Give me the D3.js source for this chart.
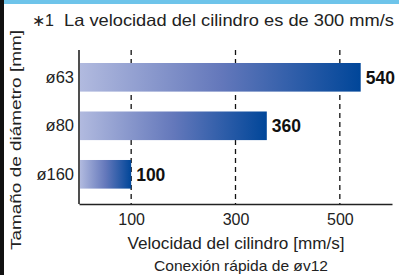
<!DOCTYPE html>
<html>
<head>
<meta charset="utf-8">
<script src="https://cdn.jsdelivr.net/npm/d3@7"></script>
<style>
  body { margin: 0; background: #fff; }
  svg { display: block; font-family: "Liberation Sans", Arial, sans-serif; }
</style>
</head>
<body>
<svg class="chart" width="399" height="275"></svg>
<script>
// data
let sizes = ['ø63', 'ø80', 'ø160'];
let speeds = [540, 360, 100];
let tickValues = [100, 300, 500];

let margin = { top: 50, right: 7, bottom: 71, left: 79 };
let width = 399 - margin.left - margin.right;
let height = 275 - margin.top - margin.bottom;

let svg = d3.select('.chart');

// frame strips
svg.append('rect').attr('x', 0).attr('y', 0).attr('width', 399).attr('height', 4).attr('fill', '#6ec4ea');
svg.append('rect').attr('x', 0).attr('y', 0).attr('width', 4).attr('height', 275).attr('fill', '#111');

let grad = svg.append('defs').append('linearGradient')
    .attr('id', 'barGrad')
    .attr('x1', '0%').attr('x2', '100%').attr('y1', '0%').attr('y2', '0%');
grad.append('stop').attr('offset', '0%').attr('stop-color', '#b1badf');
grad.append('stop').attr('offset', '50%').attr('stop-color', '#6478bb');
grad.append('stop').attr('offset', '100%').attr('stop-color', '#004699');

let chart = svg.append('g')
    .attr('transform', 'translate(' + margin.left + ',' + margin.top + ')');

let x = d3.scaleLinear().domain([0, 600]).range([0, width]);
let y = d3.scaleBand().domain(sizes).range([0, 151.6]).paddingInner(0.41).paddingOuter(0.268);

// dashed grid
chart.selectAll('.grid')
    .data(tickValues)
    .enter()
    .append('line')
    .attr('x1', d => x(d)).attr('x2', d => x(d))
    .attr('y1', 0).attr('y2', height)
    .attr('stroke', '#111')
    .attr('stroke-width', 1.3)
    .attr('stroke-dasharray', '5,4');

let data = sizes.map((s, i) => ({ size: s, value: speeds[i] }));

chart.selectAll('.bar')
    .data(data)
    .enter()
    .append('rect')
    .attr('x', 1)
    .attr('y', d => y(d.size))
    .attr('width', d => x(d.value) - 1)
    .attr('height', y.bandwidth())
    .attr('fill', 'url(#barGrad)');

chart.selectAll('.val')
    .data(data)
    .enter()
    .append('text')
    .attr('x', d => x(d.value) + 5)
    .attr('y', d => y(d.size) + y.bandwidth() / 2 + 6.5)
    .attr('font-size', 17.5)
    .attr('font-weight', 'bold')
    .attr('fill', '#111')
    .text(d => d.value);

// axes
let xAxis = chart.append('g')
    .attr('transform', 'translate(0,' + height + ')')
    .call(d3.axisBottom(x).tickValues(tickValues).tickSize(0).tickPadding(10));
xAxis.select('.domain').attr('stroke', '#222').attr('stroke-width', 1.6);
xAxis.selectAll('text').attr('font-size', 16).attr('fill', '#222').attr('font-family', 'Liberation Sans, Arial, sans-serif');

let yAxis = chart.append('g')
    .call(d3.axisLeft(y).tickSize(0).tickPadding(5));
yAxis.select('.domain').attr('stroke', '#222').attr('stroke-width', 1.6).attr('d', 'M0,0V' + height);
yAxis.selectAll('text').attr('font-size', 16.5).attr('fill', '#222').attr('font-family', 'Liberation Sans, Arial, sans-serif');

// titles
svg.append('text')
    .attr('x', 32).attr('y', 26)
    .attr('font-size', 16).attr('fill', '#222')
    .text('∗1');
svg.append('text')
    .attr('x', 64).attr('y', 26)
    .attr('font-size', 16.5).attr('fill', '#222')
    .attr('textLength', 330).attr('lengthAdjust', 'spacingAndGlyphs')
    .text('La velocidad del cilindro es de 300 mm/s');

svg.append('text')
    .attr('transform', 'translate(21,140) rotate(-90)')
    .attr('text-anchor', 'middle')
    .attr('font-size', 15).attr('fill', '#222')
    .attr('textLength', 220).attr('lengthAdjust', 'spacingAndGlyphs')
    .text('Tamaño de diámetro [mm]');

svg.append('text')
    .attr('x', 236).attr('y', 249)
    .attr('text-anchor', 'middle')
    .attr('font-size', 16).attr('fill', '#222')
    .attr('textLength', 217).attr('lengthAdjust', 'spacingAndGlyphs')
    .text('Velocidad del cilindro [mm/s]');

svg.append('text')
    .attr('x', 241).attr('y', 271)
    .attr('text-anchor', 'middle')
    .attr('font-size', 14.5).attr('fill', '#222')
    .attr('textLength', 174).attr('lengthAdjust', 'spacingAndGlyphs')
    .text('Conexión rápida de øv12');
</script>
</body>
</html>
